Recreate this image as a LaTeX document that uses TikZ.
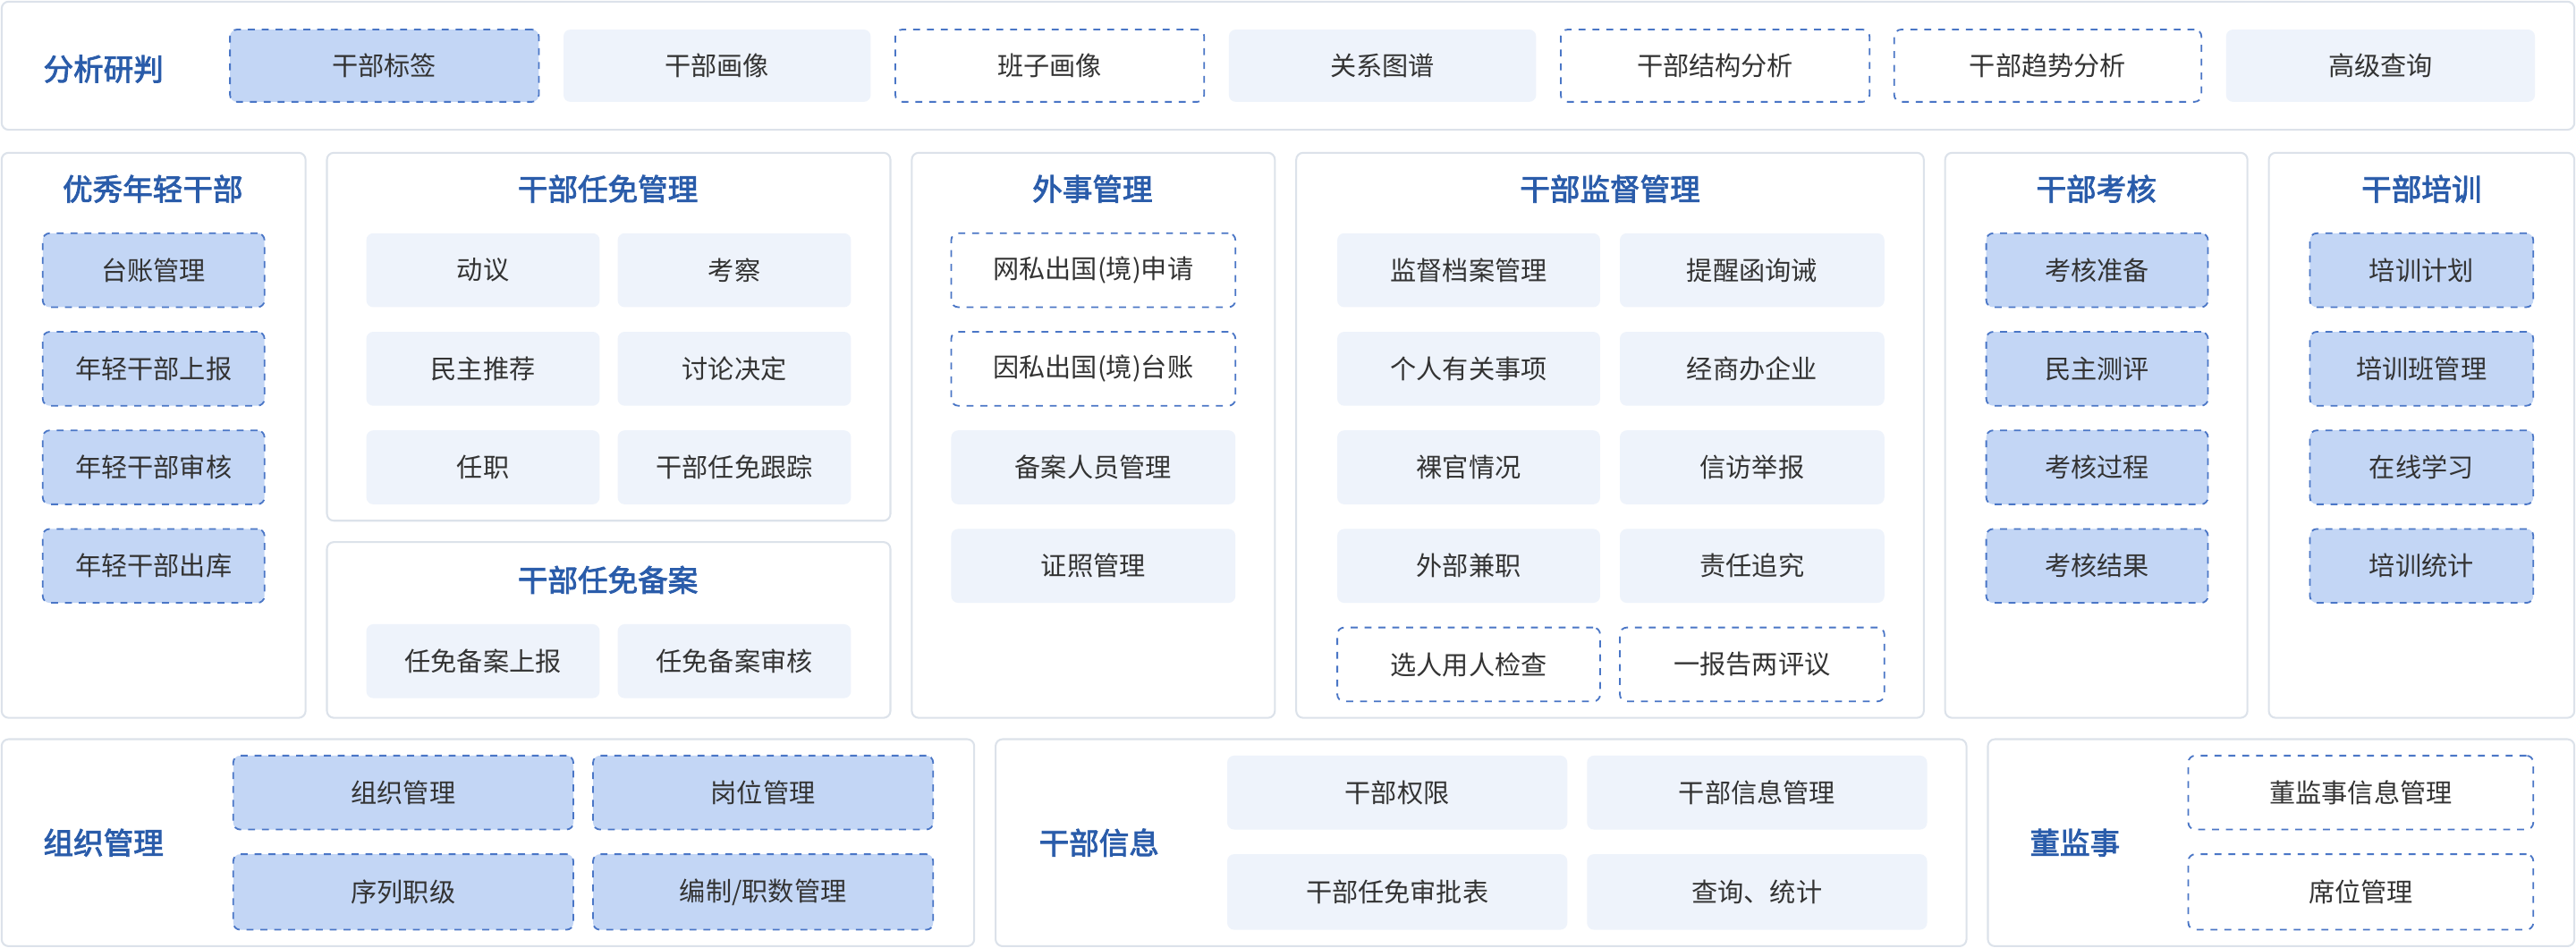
\documentclass[tikz,border=0pt]{standalone}
\usepackage{fontspec}
\setmainfont{Noto Sans CJK SC}[AutoFakeBold=2.5]
\definecolor{ttl}{HTML}{2A5CAA}
\definecolor{fillb}{HTML}{C3D6F5}
\definecolor{lite}{HTML}{EEF3FB}
\definecolor{dsh}{HTML}{4A76C6}
\definecolor{pnl}{HTML}{DCE2EA}
\definecolor{txt}{HTML}{333333}

\tikzset{
  panel/.style={draw=pnl, line width=0.8pt, fill=white, rounded corners=3pt},
  cell/.style={rounded corners=3pt, text=txt, font=\fontsize{11.3}{13}\selectfont, inner sep=0pt},
  fcell/.style={cell, fill=fillb, draw=dsh, dashed, line width=0.7pt},
  lcell/.style={cell, fill=lite},
  wcell/.style={cell, fill=white, draw=dsh, dashed, line width=0.7pt},
  title/.style={text=ttl, font=\fontsize{13}{15}\selectfont\bfseries}
}
% box from (x1,y1) to (x2,y2) in pixel units
\newcommand{\cell}[7]{\node[#2, minimum width={(#5-#3)*0.025cm}, minimum height={(#6-#4)*0.025cm}] (#1) at ({(#3+#5)/2},{(#4+#6)/2}) {#7};}
\newcommand{\panel}[4]{\draw[panel] (#1,#2) rectangle (#3,#4);}

\begin{document}
\begin{tikzpicture}[x=0.025cm, y=-0.025cm]
\useasboundingbox (0,0) rectangle (1568,577);
% panels
\panel{1}{1}{1567}{79}
\panel{1}{93}{186}{437}
\panel{199}{93}{542}{317}
\panel{199}{330}{542}{437}
\panel{555}{93}{776}{437}
\panel{789}{93}{1171}{437}
\panel{1184}{93}{1368}{437}
\panel{1381}{93}{1567}{437}
\panel{1}{450}{593}{576}
\panel{606}{450}{1197}{576}
\panel{1210}{450}{1567}{576}
% analysis row
\node[title] (fx) at (63,42) {分析研判};
\cell{fx1}{fcell}{140}{18}{328}{62}{干部标签}
\cell{fx2}{lcell}{343}{18}{530}{62}{干部画像}
\cell{fx3}{wcell}{545}{18}{733}{62}{班子画像}
\cell{fx4}{lcell}{748}{18}{935}{62}{关系图谱}
\cell{fx5}{wcell}{950}{18}{1138}{62}{干部结构分析}
\cell{fx6}{wcell}{1153}{18}{1340}{62}{干部趋势分析}
\cell{fx7}{lcell}{1355}{18}{1543}{62}{高级查询}
% young cadres
\node[title] (yx) at (93,115) {优秀年轻干部};
\cell{yx1}{fcell}{26}{142}{161}{187}{台账管理}
\cell{yx2}{fcell}{26}{202}{161}{247}{年轻干部上报}
\cell{yx3}{fcell}{26}{262}{161}{307}{年轻干部审核}
\cell{yx4}{fcell}{26}{322}{161}{367}{年轻干部出库}
% appointment
\node[title] (rm) at (370,115) {干部任免管理};
\cell{rm1}{lcell}{223}{142}{365}{187}{动议}
\cell{rm2}{lcell}{376}{142}{518}{187}{考察}
\cell{rm3}{lcell}{223}{202}{365}{247}{民主推荐}
\cell{rm4}{lcell}{376}{202}{518}{247}{讨论决定}
\cell{rm5}{lcell}{223}{262}{365}{307}{任职}
\cell{rm6}{lcell}{376}{262}{518}{307}{干部任免跟踪}
\node[title] (ba) at (370,353) {干部任免备案};
\cell{ba1}{lcell}{223}{380}{365}{425}{任免备案上报}
\cell{ba2}{lcell}{376}{380}{518}{425}{任免备案审核}
% foreign affairs
\node[title] (ws) at (665,115) {外事管理};
\cell{ws1}{wcell}{579}{142}{752}{187}{网私出国(境)申请}
\cell{ws2}{wcell}{579}{202}{752}{247}{因私出国(境)台账}
\cell{ws3}{lcell}{579}{262}{752}{307}{备案人员管理}
\cell{ws4}{lcell}{579}{322}{752}{367}{证照管理}
% supervision
\node[title] (jd) at (980,115) {干部监督管理};
\cell{jd1}{lcell}{814}{142}{974}{187}{监督档案管理}
\cell{jd2}{lcell}{986}{142}{1147}{187}{提醒函询诫}
\cell{jd3}{lcell}{814}{202}{974}{247}{个人有关事项}
\cell{jd4}{lcell}{986}{202}{1147}{247}{经商办企业}
\cell{jd5}{lcell}{814}{262}{974}{307}{裸官情况}
\cell{jd6}{lcell}{986}{262}{1147}{307}{信访举报}
\cell{jd7}{lcell}{814}{322}{974}{367}{外部兼职}
\cell{jd8}{lcell}{986}{322}{1147}{367}{责任追究}
\cell{jd9}{wcell}{814}{382}{974}{427}{选人用人检查}
\cell{jd10}{wcell}{986}{382}{1147}{427}{一报告两评议}
% assessment
\node[title] (kh) at (1276,115) {干部考核};
\cell{kh1}{fcell}{1209}{142}{1344}{187}{考核准备}
\cell{kh2}{fcell}{1209}{202}{1344}{247}{民主测评}
\cell{kh3}{fcell}{1209}{262}{1344}{307}{考核过程}
\cell{kh4}{fcell}{1209}{322}{1344}{367}{考核结果}
% training
\node[title] (px) at (1474,115) {干部培训};
\cell{px1}{fcell}{1406}{142}{1542}{187}{培训计划}
\cell{px2}{fcell}{1406}{202}{1542}{247}{培训班管理}
\cell{px3}{fcell}{1406}{262}{1542}{307}{在线学习}
\cell{px4}{fcell}{1406}{322}{1542}{367}{培训统计}
% organisation
\node[title] (zz) at (63,513) {组织管理};
\cell{zz1}{fcell}{142}{460}{349}{505}{组织管理}
\cell{zz2}{fcell}{361}{460}{568}{505}{岗位管理}
\cell{zz3}{fcell}{142}{520}{349}{566}{序列职级}
\cell{zz4}{fcell}{361}{520}{568}{566}{编制/职数管理}
% cadre info
\node[title] (xx) at (669,513) {干部信息};
\cell{xx1}{lcell}{747}{460}{954}{505}{干部权限}
\cell{xx2}{lcell}{966}{460}{1173}{505}{干部信息管理}
\cell{xx3}{lcell}{747}{520}{954}{566}{干部任免审批表}
\cell{xx4}{lcell}{966}{520}{1173}{566}{查询、统计}
% directors
\node[title] (dj) at (1263,513) {董监事};
\cell{dj1}{wcell}{1332}{460}{1542}{505}{董监事信息管理}
\cell{dj2}{wcell}{1332}{520}{1542}{566}{席位管理}
\end{tikzpicture}
\end{document}
